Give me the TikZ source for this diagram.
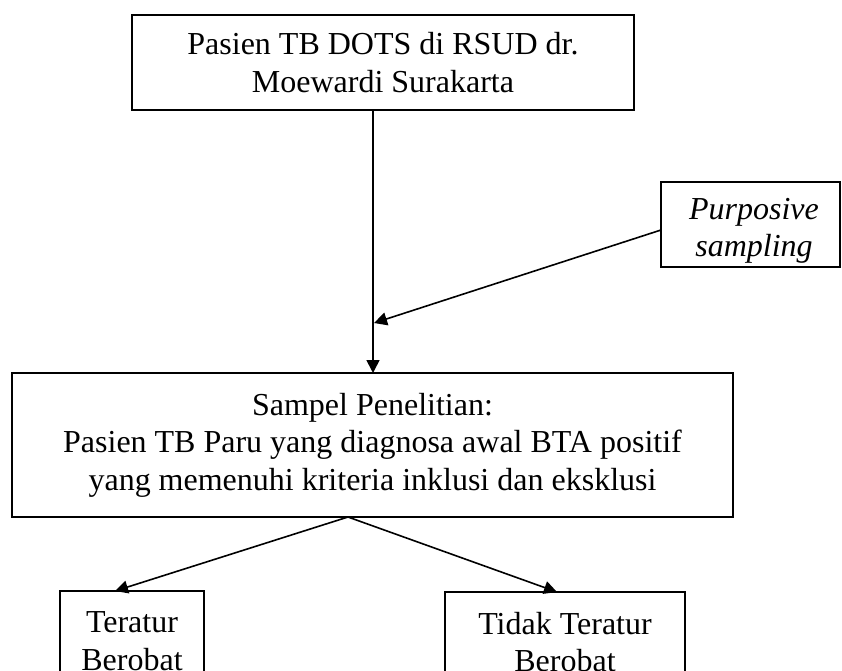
\documentclass[tikz,border=0pt]{standalone}
\usepackage{fontspec}
\setmainfont{Liberation Serif}
\usetikzlibrary{arrows.meta,calc}
\tikzset{
  box/.style={draw=black, line width=1.6pt, rectangle, align=center, inner sep=0pt,
    font=\fontsize{32}{37.5}\selectfont},
  txt/.style={align=center, inner sep=0pt, font=\fontsize{32}{37.5}\selectfont},
  arr/.style={draw=black, line width=1.6pt, -{Triangle[length=13pt,width=13pt]}}
}
\begin{document}
\begin{tikzpicture}[x=1pt,y=-1pt]
\useasboundingbox (0,0) rectangle (842,670);
\clip (0,0) rectangle (842,670);
\node[box, minimum width=502pt, minimum height=95pt] (top) at (383,62.5)
  {Pasien TB DOTS di RSUD dr.\\Moewardi Surakarta};
\node[box, minimum width=179pt, minimum height=85pt] (purp) at (750.5,224.5) {};
\node[txt] (purptext) at (754,231) {\itshape Purposive\\\itshape sampling};
\node[box, minimum width=721pt, minimum height=144pt] (mid) at (372.5,445)
  {Sampel Penelitian:\\Pasien TB Paru yang diagnosa awal BTA positif\\yang memenuhi kriteria inklusi dan eksklusi};
\node[box, minimum width=144pt, minimum height=100pt] (left) at (132,641)
  {Teratur\\Berobat};
\node[box, minimum width=240pt, minimum height=100pt] (right) at (565,642)
  {Tidak Teratur\\Berobat};
\coordinate (vtop) at (373,110);
\coordinate (vbot) at (373,373);
\coordinate (join) at (374,323);
\coordinate (pstart) at (661,230);
\coordinate (apex) at (348,517);
\coordinate (tipL) at (115,591);
\coordinate (tipR) at (557,592);
\draw[arr] (vtop) -- (vbot);
\draw[arr] (pstart) -- (join);
\draw[arr] (apex) -- (tipL);
\draw[arr] (apex) -- (tipR);
\end{tikzpicture}
\end{document}
